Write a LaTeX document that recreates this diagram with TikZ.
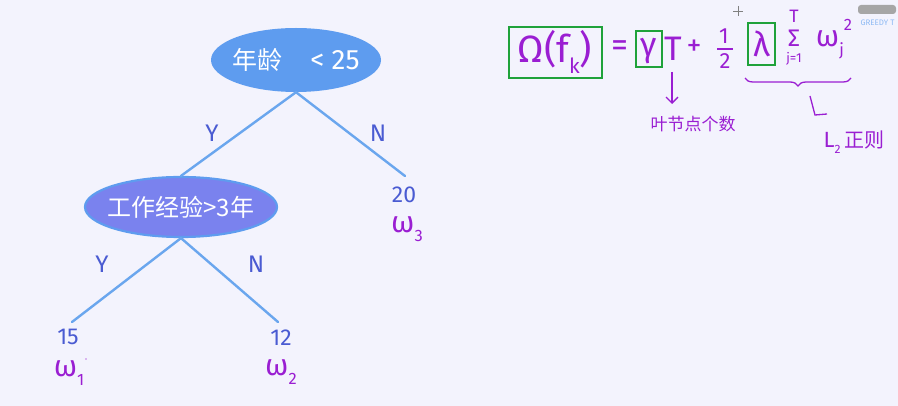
\documentclass[tikz,border=0pt]{standalone}
\usepackage{fontspec}
\setmainfont{Fira Sans}
\newfontfamily\cjk{Noto Sans CJK SC}
\newfontfamily\hand{Fira Sans}
\usetikzlibrary{decorations.pathreplacing,arrows.meta,shapes.geometric}
\definecolor{bg}{HTML}{F3F3FD}
\definecolor{nodeA}{HTML}{5E9CEF}
\definecolor{nodeB}{HTML}{7A82EE}
\definecolor{edge}{HTML}{6AA6EE}
\definecolor{leaf}{HTML}{4A5BD2}
\definecolor{pur}{HTML}{9A1ED2}
\definecolor{grn}{HTML}{1FA23A}
\newcommand\mysub[1]{\raisebox{-0.28em}{\scalebox{0.55}{#1}}}
\newcommand\mysup[1]{\raisebox{0.55em}{\scalebox{0.55}{#1}}}
\tikzset{
  treeedge/.style={draw=edge, line width=2.4pt, line cap=round},
  elabel/.style={text=leaf, font=\hand\fontsize{24}{24}\selectfont},
  leafnum/.style={text=leaf, font=\hand\fontsize{23}{23}\selectfont},
  wlabel/.style={text=pur, font=\hand\fontsize{30}{30}\selectfont},
  splitA/.style={ellipse, fill=nodeA, text=white, minimum width=170pt, minimum height=64pt, inner xsep=-10pt, inner ysep=0pt, font=\cjk\fontsize{25}{25}\selectfont},
  splitB/.style={ellipse, fill=nodeB, draw=nodeA, line width=2.2pt, text=white, minimum width=192pt, minimum height=60pt, inner xsep=-12pt, inner ysep=0pt, font=\cjk\fontsize{24}{24}\selectfont},
  gbox/.style={draw=grn, line width=1.6pt},
  pm/.style={text=pur, inner sep=0pt},
  parrow/.style={draw=pur, line width=1.3pt, -{Straight Barb[length=6pt]}},
}
\begin{document}
\begin{tikzpicture}[x=1pt,y=-1pt]
\useasboundingbox (0,0) rectangle (898,406);
\fill[bg] (0,0) rectangle (898,406);
% tree
\node[splitA] (root) at (296,60) {年龄\hspace{28pt}{\hand\fontsize{28}{28}\selectfont< 25}};
\node[splitB] (work) at (181,207) {工作经验>3年};
\coordinate (l20) at (405,176);
\coordinate (l15) at (72,322);
\coordinate (l12) at (278,322);
\draw[treeedge] (root.south) -- (work.north);
\draw[treeedge] (root.south) -- (l20);
\draw[treeedge] (work.south) -- (l15);
\draw[treeedge] (work.south) -- (l12);
\node[elabel] (y1) at (212,133) {Y};
\node[elabel] (n1) at (378,133) {N};
\node[elabel] (y2) at (102,264) {Y};
\node[elabel] (n2) at (256,264) {N};
\node[leafnum] (n20) at (404,195) {20};
\node[leafnum] (n15) at (68,337) {15};
\node[leafnum] (n12) at (281,338) {12};
\node[wlabel] (w3) at (407,229) {ω\mysub{3}};
\node[wlabel] (w1) at (69,373) {ω\mysub{1}};
\node[wlabel] (w2) at (281,372) {ω\mysub{2}};
\fill[pur!60] (86,359) circle (0.8pt);
% formula
\node[pm, font=\fontsize{38}{38}\selectfont] (omega) at (555,52) {Ω(f\mysub{k})};
\draw[gbox] (509,27) rectangle (602,78);
\node[pm, font=\fontsize{34}{34}\selectfont] (eq) at (620,49) {=};
\node[pm, font=\fontsize{34}{34}\selectfont] (gam) at (649,51) {γ};
\draw[gbox] (636,31) rectangle (662,67);
\node[pm, font=\fontsize{34}{34}\selectfont] (T) at (673,49) {T};
\node[pm, font=\fontsize{30}{30}\selectfont] (plus) at (694,48) {+};
\node[pm, font=\fontsize{22}{22}\selectfont] (one) at (724,36) {1};
\node[pm, font=\fontsize{22}{22}\selectfont] (two) at (725,61) {2};
\draw[pur, line width=1.3pt] (717,49) -- (733,49);
\node[pm, font=\fontsize{34}{34}\selectfont] (lam) at (762,44) {λ};
\draw[gbox] (748,23) rectangle (775,65);
\node[pm, font=\fontsize{18}{18}\selectfont] (tsup) at (794,16) {T};
\node[pm, font=\fontsize{24}{24}\selectfont] (sig) at (794,38) {Σ};
\node[pm, font=\fontsize{13}{13}\selectfont] (jeq) at (794,59) {j=1};
\node[pm, font=\fontsize{30}{30}\selectfont] (wj) at (834,39) {ω\mysub{j}\mysup{2}};
\draw[pur, line width=1.3pt, decorate, decoration={brace, mirror, amplitude=8pt}] (745,78) -- (851,78);
\coordinate (a1top) at (672,72);
\coordinate (a1bot) at (672,104);
\draw[parrow] (a1top) -- (a1bot);
\node[pm, font=\cjk\fontsize{17}{17}\selectfont] (leafcnt) at (693,124) {叶节点个数};
\coordinate (a2s) at (810,96);
\coordinate (a2e) at (827,114);
\draw[pur, line width=1.3pt] (a2s) -- (815,115) -- (a2e);
\node[pm, font=\fontsize{22}{22}\selectfont] (l2) at (854,142) {L\mysub{2}\,{\cjk\fontsize{20}{20}\selectfont 正则}};
% corner
\fill[gray!70, rounded corners=3pt] (858,5) rectangle (896,14);
\node[text=nodeA!70, font=\hand\fontsize{8}{8}\selectfont, anchor=west] (greedy) at (857,23) {GREEDY T};
\draw[gray, line width=0.5pt] (738,6) -- (738,16) (733,11) -- (743,11);
\end{tikzpicture}
\end{document}
